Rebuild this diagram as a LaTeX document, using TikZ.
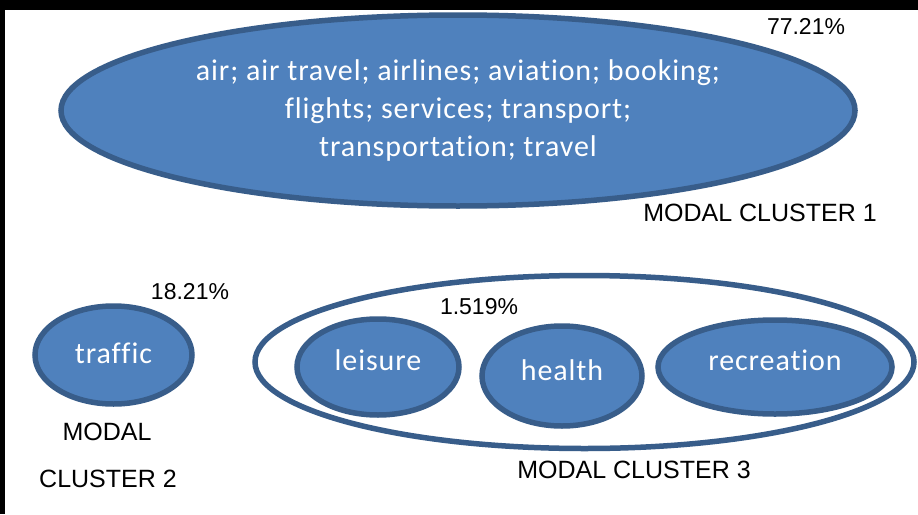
\documentclass[tikz,border=0pt]{standalone}
\usepackage{fontspec}
\setmainfont{Liberation Sans}
\newfontfamily\termfont[Ligatures=NoCommon, LetterSpace=3]{Carlito}
\usetikzlibrary{shapes.geometric}
\definecolor{clfill}{HTML}{4F81BD}
\definecolor{clline}{HTML}{385D8A}

\begin{document}
\begin{tikzpicture}[x=1pt, y=-1pt,
    blob/.style={ellipse, draw=clline, fill=clfill, line width=5.5pt, inner sep=0pt},
    ring/.style={ellipse, draw=clline, fill=white, line width=5.5pt, inner sep=0pt},
    term/.style={text=white, inner sep=0pt, align=center, font=\termfont\fontsize{30}{38}\selectfont},
    pct/.style={inner sep=0pt, font=\fontsize{23}{27}\selectfont},
    caption/.style={inner sep=0pt, font=\fontsize{25}{30}\selectfont}]
  \useasboundingbox[fill=white] (0,0) rectangle (918,514);
  %black edges of the frame
  \fill[black] (0,0) rectangle (918,10);
  \fill[black] (0,0) rectangle (5,514);
  %modal cluster 1
  \node[blob, minimum width=794pt, minimum height=191pt] (c1) at (458,110.5) {};
  \node[term] (c1t) at (c1) {air; air travel; airlines; aviation; booking;\\ flights; services; transport;\\ transportation; travel};
  \node[pct] (p1) at (806,27) {77.21\%};
  \node[caption] (n1) at (760,213) {MODAL CLUSTER 1};
  %modal cluster 2
  \node[blob, minimum width=157pt, minimum height=98pt] (c2) at (113.5,355) {};
  \node[term] (traffic) at ([yshift=2pt]c2.center) {traffic};
  \node[pct] (p2) at (190,292) {18.21\%};
  \node[caption] (n2a) at (107,432) {MODAL};
  \node[caption] (n2b) at (108,479) {CLUSTER 2};
  %modal cluster 3
  \node[ring, minimum width=659pt, minimum height=173pt] (c3) at (584.5,362) {};
  \node[blob, minimum width=162pt, minimum height=96pt] (leisure) at (378,367) {};
  \node[blob, minimum width=160pt, minimum height=100pt] (health) at (562,376) {};
  \node[blob, minimum width=234pt, minimum height=94pt] (recreation) at (775,367) {};
  \node[term] at ([yshift=7pt]leisure.center) {leisure};
  \node[term] at ([yshift=6pt]health.center) {health};
  \node[term] at ([yshift=7pt]recreation.center) {recreation};
  \node[pct] (p3) at (479,307) {1.519\%};
  \node[caption] (n3) at (634,470) {MODAL CLUSTER 3};
\end{tikzpicture}
\end{document}
